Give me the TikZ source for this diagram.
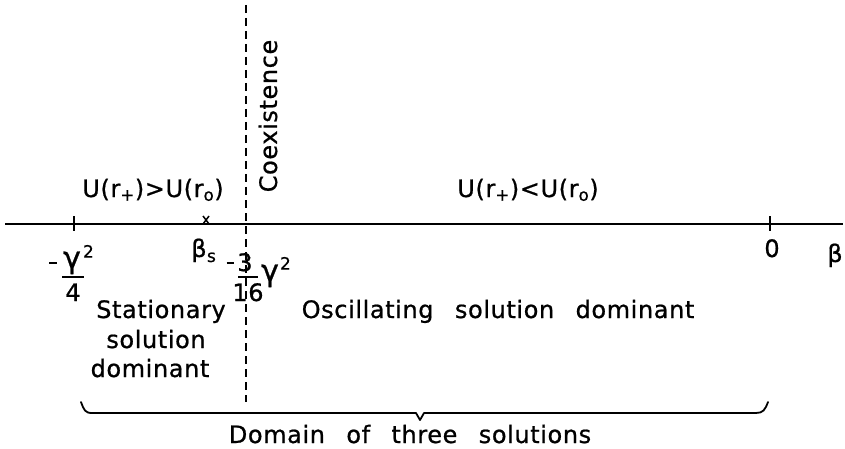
\documentclass[tikz,border=0pt]{standalone}
\usepackage{fontspec}
\setmainfont{DejaVu Sans}[WordSpace=2.6,LetterSpace=2.5,FakeBold=0.8]
\usetikzlibrary{shapes.misc}
\newcommand{\bigf}{\fontsize{24}{28}\selectfont}
\newcommand{\gamf}{\fontsize{30}{34}\selectfont}
\newcommand{\smallf}{\fontsize{17}{19}\selectfont}
\begin{document}
\begin{tikzpicture}[x=1pt,y=-1pt,
  every node/.style={inner sep=0pt,outer sep=0pt},
  lbl/.style={anchor=base,font=\bigf},
  gam/.style={anchor=base,font=\gamf},
  supr/.style={anchor=north west,font=\smallf},
  subs/.style={anchor=base west,font=\smallf},
  axisline/.style={line width=2.3pt},
  tickline/.style={line width=2.6pt},
  dashline/.style={line width=2.8pt,dash pattern=on 8pt off 5pt},
  bracepath/.style={line width=1.8pt,line join=round,line cap=round}]
\useasboundingbox (0,0) rectangle (845,449);
% axis
\coordinate (axL) at (5,224);
\coordinate (axR) at (843,224);
\draw[axisline] (axL) -- (axR);
% ticks
\coordinate (t1a) at (74,216); \coordinate (t1b) at (74,231);
\coordinate (t2a) at (770,216); \coordinate (t2b) at (770,231);
\draw[tickline] (t1a) -- (t1b);
\draw[tickline] (t2a) -- (t2b);
% beta_s cross
\node[cross out,draw,line width=1.5pt,minimum width=6pt,minimum height=8pt] (cr) at (206,220) {};
% dashed coexistence line
\coordinate (dT) at (246,5);
\coordinate (dB) at (246,402);
\draw[dashline] (dT) -- (dB);
\node[font=\bigf,rotate=90] (coex) at (268,116) {Coexistence};
% region labels
\node[lbl] (ugt) at (153,197) {U(r\textsubscript{+})>U(r\textsubscript{o})};
\node[lbl] (ult) at (528,197) {U(r\textsubscript{+})<U(r\textsubscript{o})};
% -gamma^2/4
\node (m1) at (53,263) {\rule{8pt}{2.6pt}};
\node[gam] (g1) at (72,268) {γ};
\node[supr] (s1) at (83,245) {2};
\node (b1) at (73,277) {\rule{22pt}{2.4pt}};
\node[lbl] (d1) at (73,301) {4};
% beta_s
\node[lbl] (bs) at (199,257) {β};
\node[subs] (bss) at (207,262) {s};
% -3/16 gamma^2
\node (m2) at (230,263) {\rule{7pt}{2.6pt}};
\node[lbl] (n2) at (245,271) {3};
\node (b2) at (248,277) {\rule{20pt}{2.4pt}};
\node[lbl] (d2) at (248,301) {16};
\node[gam] (g2) at (270,281) {γ};
\node[supr] (s2) at (280,257) {2};
% zero and beta
\node[lbl] (zero) at (772,257) {0};
\node[lbl] (beta) at (835,262) {β};
% dominance labels
\node[lbl] (st1) at (161,318) {Stationary};
\node[lbl] (st2) at (156,348) {solution};
\node[lbl] (st3) at (150,377) {dominant};
\node[lbl] (osc) at (498,318) {Oscillating solution dominant};
% brace
\coordinate (brL) at (81,402);
\coordinate (brR) at (768,402);
\coordinate (brN) at (420,420);
\draw[bracepath] (brL) .. controls (84,410) and (85,413) .. (92,413) -- (416,413) -- (brN) -- (424,413) -- (756,413) .. controls (763,413) and (765,410) .. (brR);
\node[lbl] (dom) at (410,443) {Domain of three solutions};
\end{tikzpicture}
\end{document}
